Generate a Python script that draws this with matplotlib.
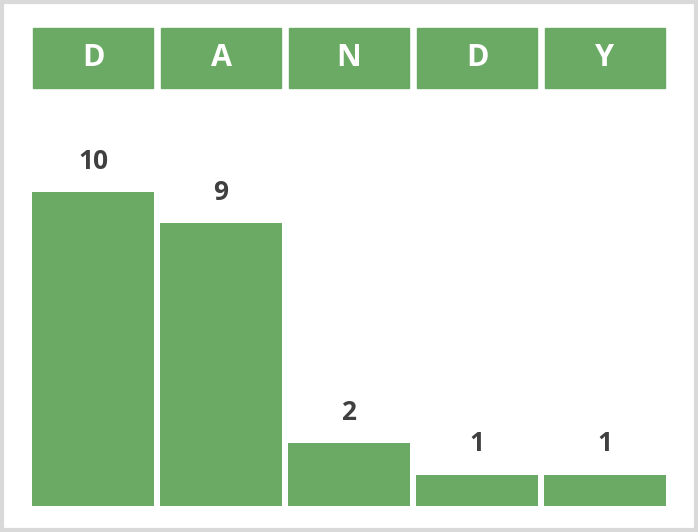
import matplotlib
matplotlib.use("Agg")
import matplotlib.pyplot as plt
from matplotlib.patches import Rectangle

letters = ["D", "A", "N", "D", "Y"]
values = [10, 9, 2, 1, 1]
green = "#6aaa64"

W, H = 698, 532
fig = plt.figure(figsize=(W/100, H/100), dpi=100)
fig.patches.append(Rectangle((2/W, 2/H), 1-4/W, 1-4/H, transform=fig.transFigure,
                             fill=False, edgecolor="#d9d9d9", linewidth=3))
ax = fig.add_axes([29/W, 26/H, 640/W, 478/H])
x = list(range(len(values)))
ax.bar(x, values, width=0.952, color=green)
ymax = 478/31.4
ax.set_xlim(-0.5, len(values)-0.5)
ax.set_ylim(0, ymax)
htop, hbot = ymax, (506-88)/31.4
for i, l in enumerate(letters):
    ax.add_patch(Rectangle((i-0.47, hbot), 0.94, htop-hbot, color=green, clip_on=False))
    ax.text(i, (htop+hbot)/2, l, ha="center", va="center", color="white",
            fontsize=22, fontweight="bold", family="Open Sans")
for i, v in enumerate(values):
    ax.text(i, v+0.55, str(v), ha="center", va="bottom", color="#404040",
            fontsize=19, fontweight="bold", family="Open Sans")
ax.axis("off")
fig.savefig("out.png", dpi=100)
